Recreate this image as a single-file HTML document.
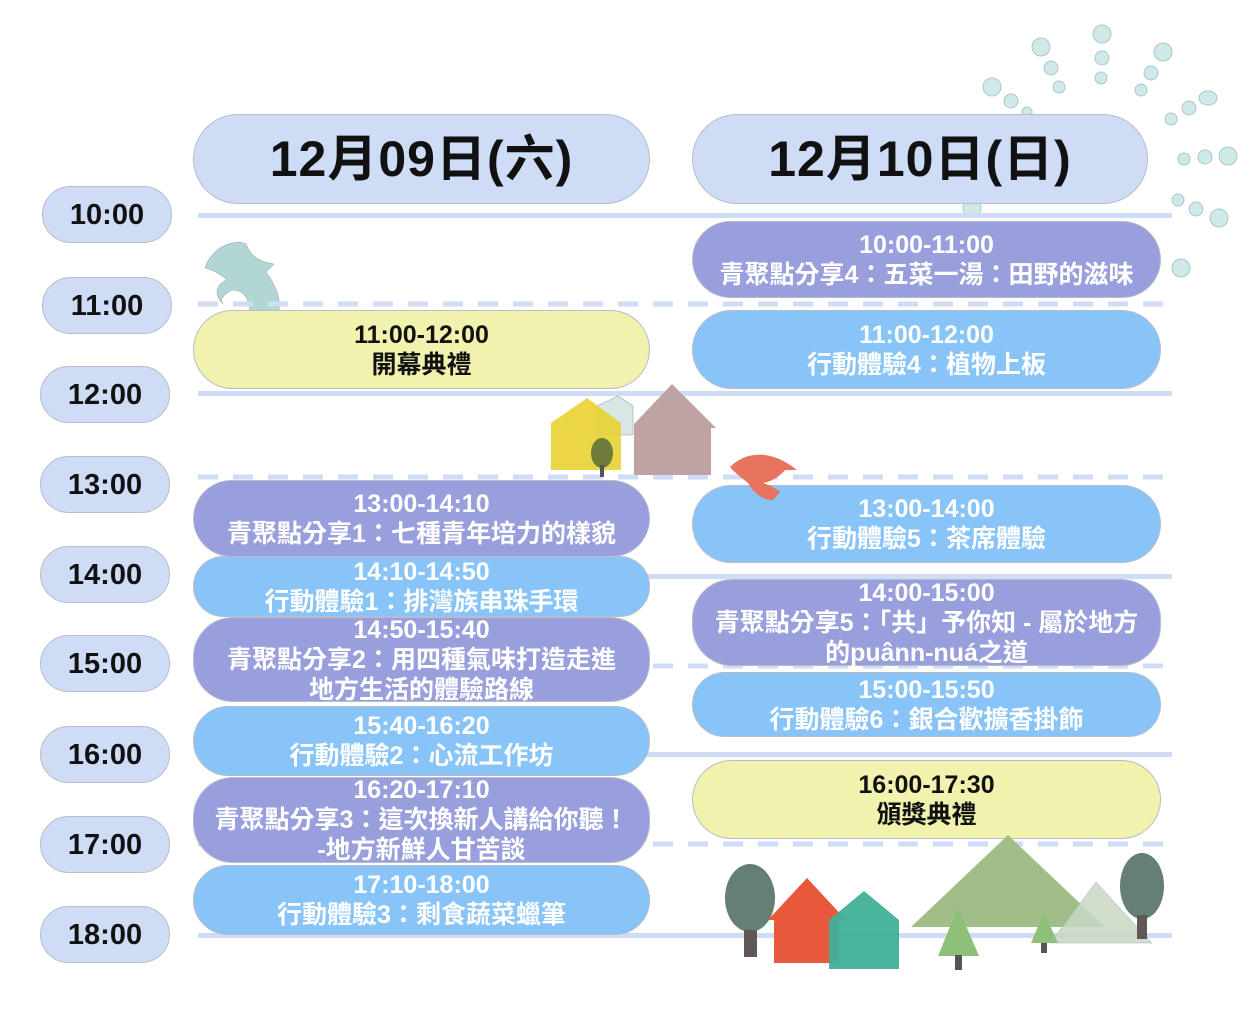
<!DOCTYPE html>
<html><head><meta charset="utf-8">
<style>
*{margin:0;padding:0;box-sizing:border-box}
body{width:1252px;height:1020px;background:#fff;position:relative;overflow:hidden;font-family:"Liberation Sans","Noto Sans CJK TC",sans-serif;font-weight:bold}
.p{position:absolute;display:flex;flex-direction:column;align-items:center;justify-content:center;text-align:center;border-radius:40px;border:1px solid #b9bcc8;font-size:25px;line-height:30px;white-space:nowrap}
.t{background:#cfdcf5;color:#111;font-size:29px;border-radius:30px}
.h{background:#cfdcf5;color:#111;font-size:50px;border-radius:46px;letter-spacing:1px}
.y{background:#f0f2ae;color:#111}
.u{background:#999fdc;color:#fff}
.b{background:#88c4f8;color:#fff}
svg{position:absolute;left:0;top:0}
</style></head><body>
<svg width="1252" height="1020">
<g fill="#cfe9e8" stroke="#a9c9c8" stroke-width="1">
<circle cx="1041" cy="47" r="9"/><circle cx="1051" cy="68" r="7"/><circle cx="1059" cy="87" r="6"/>
<circle cx="992" cy="87" r="9"/><circle cx="1011" cy="101" r="7"/><circle cx="1027" cy="112" r="5"/>
<circle cx="1102" cy="34" r="9"/><circle cx="1102" cy="58" r="7"/><circle cx="1101" cy="78" r="6"/>
<circle cx="1163" cy="52" r="9"/><circle cx="1151" cy="73" r="7"/><circle cx="1141" cy="90" r="6"/>
<ellipse cx="1208" cy="98" rx="9" ry="7"/><circle cx="1189" cy="108" r="7"/><circle cx="1171" cy="119" r="6"/>
<circle cx="1184" cy="159" r="6"/><circle cx="1205" cy="157" r="7"/><circle cx="1228" cy="156" r="9"/>
<circle cx="1178" cy="200" r="6"/><circle cx="1196" cy="209" r="7"/><circle cx="1219" cy="218" r="9"/>
<circle cx="1181" cy="268" r="9"/><circle cx="972" cy="208" r="9"/>
</g>
<path d="M205,268 C210,252 225,242 240,242 L246,244 C250,255 258,262 274,264 L266,272 C276,285 282,300 278,315 L250,315 C250,300 245,290 232,290 C222,295 220,300 223,304 C214,295 215,285 227,280 C218,272 212,270 205,268Z" fill="#b2d6d4" stroke="#9ab" stroke-width="0.6"/>
<g fill="#cfdcf5">
<rect x="198" y="213" width="974" height="5"/>
<rect x="198" y="391" width="974" height="5"/>
<rect x="198" y="574" width="974" height="5"/>
<rect x="198" y="752" width="974" height="5"/>
<rect x="198" y="933" width="974" height="5"/>
</g>
<g stroke="#cfdcf5" stroke-width="5" stroke-dasharray="20 15">
<line x1="198" y1="304" x2="1172" y2="304"/>
<line x1="198" y1="477" x2="1172" y2="477"/>
<line x1="198" y1="666" x2="1172" y2="666"/>
<line x1="198" y1="844" x2="1172" y2="844"/>
</g>
<polygon points="597,406 618,396 633,406 633,435 597,435" fill="#d8e6e6" stroke="#a9bcbc" stroke-width="0.8"/>
<polygon points="551,423 587,398 621,423 621,470 551,470" fill="#e8d232" opacity="0.9"/>
<polygon points="634,424 672,384 716,428 711,428 711,475 634,475" fill="#bfa3a3"/>
<ellipse cx="602" cy="453" rx="11" ry="15" fill="#6e7b3a"/>
<rect x="600" y="465" width="4" height="12" fill="#555"/>
</svg>

<div class="p t" style="left:42px;top:186px;width:130px;height:57px">10:00</div>
<div class="p t" style="left:42px;top:277px;width:130px;height:57px">11:00</div>
<div class="p t" style="left:40px;top:366px;width:130px;height:57px">12:00</div>
<div class="p t" style="left:40px;top:456px;width:130px;height:57px">13:00</div>
<div class="p t" style="left:40px;top:546px;width:130px;height:57px">14:00</div>
<div class="p t" style="left:40px;top:635px;width:130px;height:57px">15:00</div>
<div class="p t" style="left:40px;top:726px;width:130px;height:57px">16:00</div>
<div class="p t" style="left:40px;top:816px;width:130px;height:57px">17:00</div>
<div class="p t" style="left:40px;top:906px;width:130px;height:57px">18:00</div>

<div class="p h" style="left:193px;top:114px;width:457px;height:90px">12月09日(六)</div>
<div class="p h" style="left:692px;top:114px;width:456px;height:90px">12月10日(日)</div>

<div class="p y" style="left:193px;top:310px;width:457px;height:79px"><div>11:00-12:00</div><div>開幕典禮</div></div>
<div class="p u" style="left:193px;top:480px;width:457px;height:77px"><div>13:00-14:10</div><div>青聚點分享1：七種青年培力的樣貌</div></div>
<div class="p b" style="left:193px;top:556px;width:457px;height:61px"><div>14:10-14:50</div><div>行動體驗1：排灣族串珠手環</div></div>
<div class="p u" style="left:193px;top:617px;width:457px;height:85px"><div>14:50-15:40</div><div>青聚點分享2：用四種氣味打造走進</div><div>地方生活的體驗路線</div></div>
<div class="p b" style="left:193px;top:706px;width:457px;height:70px"><div>15:40-16:20</div><div>行動體驗2：心流工作坊</div></div>
<div class="p u" style="left:193px;top:777px;width:457px;height:86px"><div>16:20-17:10</div><div>青聚點分享3：這次換新人講給你聽！</div><div>-地方新鮮人甘苦談</div></div>
<div class="p b" style="left:193px;top:865px;width:457px;height:70px"><div>17:10-18:00</div><div>行動體驗3：剩食蔬菜蠟筆</div></div>

<div class="p u" style="left:692px;top:221px;width:469px;height:77px"><div>10:00-11:00</div><div>青聚點分享4：五菜一湯：田野的滋味</div></div>
<div class="p b" style="left:692px;top:310px;width:469px;height:79px"><div>11:00-12:00</div><div>行動體驗4：植物上板</div></div>
<div class="p b" style="left:692px;top:485px;width:469px;height:78px"><div>13:00-14:00</div><div>行動體驗5：茶席體驗</div></div>
<div class="p u" style="left:692px;top:579px;width:469px;height:87px"><div>14:00-15:00</div><div>青聚點分享5：「共」予你知 - 屬於地方</div><div>的puânn-nuá之道</div></div>
<div class="p b" style="left:692px;top:672px;width:469px;height:65px"><div>15:00-15:50</div><div>行動體驗6：銀合歡擴香掛飾</div></div>
<div class="p y" style="left:692px;top:760px;width:469px;height:79px"><div>16:00-17:30</div><div>頒獎典禮</div></div>

<svg width="1252" height="1020">
<path d="M730,467 C745,452 770,448 797,470 L785,470 C778,478 770,482 763,483 C772,486 778,490 780,492 L773,500 C760,500 752,490 748,483 C742,478 735,473 730,467Z" fill="#e8735e"/>
<polygon points="911,927 1008,835 1105,927" fill="#9dbb82" opacity="0.95"/>
<polygon points="1050,943 1096,882 1152,943" fill="#c8d8c4" opacity="0.85" stroke="#9aa" stroke-width="0.5"/>
<ellipse cx="750" cy="898" rx="25" ry="34" fill="#667f74"/>
<rect x="744" y="930" width="13" height="27" fill="#5f5856"/>
<polygon points="768,920 807,878 846,920 839,920 839,963 774,963 774,920" fill="#e8583a"/>
<polygon points="829,920 864,891 899,920 899,969 829,969" fill="#3fb199" opacity="0.95"/>
<polygon points="938,956 958,907 979,956" fill="#8fc07a"/>
<rect x="955" y="955" width="7" height="15" fill="#555"/>
<polygon points="1031,943 1044,912 1058,943" fill="#8fc07a"/>
<rect x="1041" y="943" width="6" height="10" fill="#555"/>
<ellipse cx="1142" cy="886" rx="22" ry="33" fill="#667f74"/>
<rect x="1137" y="915" width="10" height="24" fill="#5f5856"/>
</svg>
</body></html>
